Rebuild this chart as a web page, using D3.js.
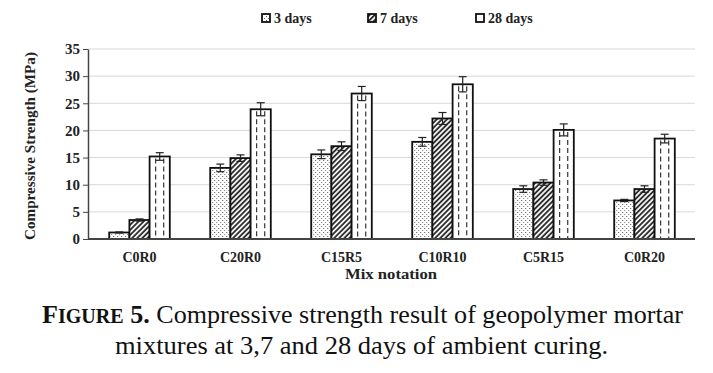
<!DOCTYPE html>
<html>
<head>
<meta charset="utf-8">
<script src="https://cdn.jsdelivr.net/npm/d3@7"></script>
<style>
  body { margin: 0; background: #fff; }
  svg { display: block; font-family: "Liberation Serif", "Times New Roman", serif; }
</style>
</head>
<body>
<svg id="chart" width="713" height="373"></svg>
<script>
var categories = ["C0R0", "C20R0", "C15R5", "C10R10", "C5R15", "C0R20"];
var seriesNames = ["3 days", "7 days", "28 days"];
var days3 = [1.2, 13.1, 15.6, 17.9, 9.2, 7.1];
var days7 = [3.5, 14.9, 17.1, 22.2, 10.4, 9.2];
var days28 = [15.2, 23.9, 26.8, 28.5, 20.1, 18.5];
var err3 = [0.1, 0.7, 0.8, 0.8, 0.6, 0.2];
var err7 = [0.2, 0.6, 0.8, 1.1, 0.5, 0.6];
var err28 = [0.7, 1.2, 1.3, 1.4, 1.1, 0.8];
var yTicks = [0, 5, 10, 15, 20, 25, 30, 35];

var values = [days3, days7, days28];
var errors = [err3, err7, err28];
var fills = ["url(#dots)", "url(#hatch)", "#fff"];
var serif = "Liberation Serif, Times New Roman, serif";

var svg = d3.select("#chart");

// patterns
var defs = svg.append("defs");
var dots = defs.append("pattern")
    .attr("id", "dots").attr("patternUnits", "userSpaceOnUse")
    .attr("width", 4).attr("height", 4);
dots.append("rect").attr("width", 4).attr("height", 4).attr("fill", "#fff");
dots.append("rect").attr("x", 0).attr("y", 0).attr("width", 1).attr("height", 1).attr("fill", "#555");
dots.append("rect").attr("x", 2).attr("y", 2).attr("width", 1).attr("height", 1).attr("fill", "#777");

var hatch = defs.append("pattern")
    .attr("id", "hatch").attr("patternUnits", "userSpaceOnUse")
    .attr("width", 3.6).attr("height", 3.6)
    .attr("patternTransform", "rotate(45)");
hatch.append("rect").attr("width", 3.6).attr("height", 3.6).attr("fill", "#fff");
hatch.append("line").attr("x1", 1).attr("y1", 0).attr("x2", 1).attr("y2", 3.6)
    .attr("stroke", "#222").attr("stroke-width", 1.8);

var x0 = d3.scaleBand().domain(categories).range([89, 695]).paddingInner(0.4).paddingOuter(0.2);
var x1 = d3.scaleBand().domain(d3.range(3)).range([0, x0.bandwidth()]);
var y = d3.scaleLinear().domain([0, 35]).range([239, 49]);

// gridlines
svg.append("g").selectAll("line")
    .data(yTicks.slice(1))
    .enter().append("line")
    .attr("x1", 88).attr("x2", 695)
    .attr("y1", function(d){ return y(d); })
    .attr("y2", function(d){ return y(d); })
    .attr("stroke", "#d9d9d9").attr("stroke-width", 1);

// y axis
var yAxis = svg.append("g")
    .attr("transform", "translate(88,0)")
    .call(d3.axisLeft(y).tickValues(yTicks).tickSize(5).tickSizeOuter(0));
yAxis.attr("font-family", serif);
yAxis.select(".domain").attr("stroke", "#444").attr("stroke-width", 1.5);
yAxis.selectAll(".tick line").attr("stroke", "#444");
yAxis.selectAll("text")
    .attr("x", -8)
    .style("font-size", "15px").style("font-weight", "bold").attr("fill", "#222");

// bars
var groups = svg.append("g").selectAll("g")
    .data(categories)
    .enter().append("g")
    .attr("transform", function(d){ return "translate(" + x0(d) + ",0)"; });

groups.each(function(cat, ci){
    var g = d3.select(this);
    d3.range(3).forEach(function(si){
        var v = values[si][ci];
        var bx = x1(si), bw = x1.bandwidth();
        g.append("rect")
            .attr("x", bx).attr("y", y(v))
            .attr("width", bw).attr("height", y(0) - y(v))
            .attr("fill", fills[si])
            .attr("stroke", "#111").attr("stroke-width", 1.8);
        if (si == 2) {
            [0.3, 0.7].forEach(function(f){
                g.append("line")
                    .attr("x1", bx + bw * f).attr("x2", bx + bw * f)
                    .attr("y1", y(v) + 2).attr("y2", y(0))
                    .attr("stroke", "#222").attr("stroke-width", 1.1)
                    .attr("stroke-dasharray", "5,3");
            });
        }
        var e = errors[si][ci];
        var cx = bx + bw / 2;
        g.append("line")
            .attr("x1", cx).attr("x2", cx)
            .attr("y1", y(v + e)).attr("y2", y(v - e))
            .attr("stroke", "#222").attr("stroke-width", 1.2);
        [v + e, v - e].forEach(function(val){
            g.append("line")
                .attr("x1", cx - 4).attr("x2", cx + 4)
                .attr("y1", y(val)).attr("y2", y(val))
                .attr("stroke", "#222").attr("stroke-width", 1.2);
        });
    });
});

// x axis line
svg.append("line")
    .attr("x1", 88).attr("x2", 695)
    .attr("y1", y(0)).attr("y2", y(0))
    .attr("stroke", "#444").attr("stroke-width", 2);

svg.append("g").selectAll("text")
    .data(categories)
    .enter().append("text")
    .attr("x", function(d){ return x0(d) + x0.bandwidth() / 2; })
    .attr("y", 262)
    .attr("text-anchor", "middle")
    .style("font-size", "14px").style("font-weight", "bold").attr("fill", "#222")
    .text(function(d){ return d; });

// axis titles
svg.append("text")
    .attr("x", 345).attr("y", 279)
    .attr("textLength", 92).attr("lengthAdjust", "spacingAndGlyphs")
    .style("font-size", "14px").style("font-weight", "bold").attr("fill", "#222")
    .text("Mix notation");

svg.append("text")
    .attr("transform", "translate(35,240) rotate(-90)")
    .attr("textLength", 188).attr("lengthAdjust", "spacingAndGlyphs")
    .style("font-size", "14px").style("font-weight", "bold").attr("fill", "#222")
    .text("Compressive Strength (MPa)");

// legend
var legendX = [262, 368, 476];
var leg = svg.append("g").selectAll("g")
    .data(seriesNames)
    .enter().append("g")
    .attr("transform", function(d, i){ return "translate(" + legendX[i] + ",0)"; });
leg.append("rect")
    .attr("x", 0).attr("y", 14).attr("width", 8).attr("height", 8)
    .attr("fill", function(d, i){ return fills[i]; })
    .attr("stroke", "#111").attr("stroke-width", 1.8);
leg.append("text")
    .attr("x", 12).attr("y", 23)
    .style("font-size", "14px").style("font-weight", "bold").attr("fill", "#222")
    .text(function(d){ return d; });

// caption
var cap = svg.append("text")
    .attr("x", 42).attr("y", 323)
    .attr("textLength", 641).attr("lengthAdjust", "spacingAndGlyphs")
    .style("font-size", "26px").attr("fill", "#111");
cap.append("tspan").style("font-weight", "bold").text("F");
cap.append("tspan").style("font-weight", "bold").style("font-size", "20px").text("IGURE");
cap.append("tspan").style("font-weight", "bold").text(" 5.");
cap.append("tspan").text(" Compressive strength result of geopolymer mortar");

svg.append("text")
    .attr("x", 115).attr("y", 354)
    .attr("textLength", 493).attr("lengthAdjust", "spacingAndGlyphs")
    .style("font-size", "26px").attr("fill", "#111")
    .text("mixtures at 3,7 and 28 days of ambient curing.");
</script>
</body>
</html>
